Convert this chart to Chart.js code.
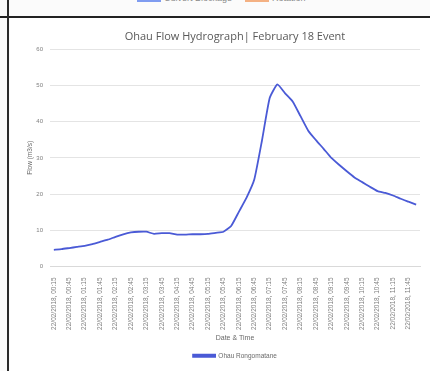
<!DOCTYPE html>
<html>
<head>
<meta charset="utf-8">
<script src="https://cdn.jsdelivr.net/npm/chart.js@4/dist/chart.umd.min.js"></script>
<style>
  html, body { margin: 0; padding: 0; }
  body { width: 430px; height: 371px; background: #fbfbfb; position: relative; overflow: hidden; font-family: "Liberation Sans", Arial, sans-serif; }
  #prev-legend { position: absolute; top: -9px; left: 0; width: 430px; height: 18px; color: #8a8a8a; font-size: 9px; }
  #prev-legend span { position: absolute; top: 2px; }
  #prev-legend i { position: absolute; top: 9px; width: 24px; height: 2px; }
  #hline { position: absolute; left: 0; top: 16px; width: 430px; height: 2px; background: #222; }
  #vline { position: absolute; left: 7px; top: 0; width: 2px; height: 371px; background: #2a2a2a; }
  #wrap { position: absolute; left: 10px; top: 18px; width: 420px; height: 353px; background: #fff; }
</style>
</head>
<body>
<div id="prev-legend">
  <i style="left:137px;background:#7f9cf0"></i><span style="left:164px">Culvert Blockage</span>
  <i style="left:245px;background:#f4b183"></i><span style="left:272px">Rotation</span>
</div>
<div id="hline"></div>
<div id="vline"></div>
<div id="wrap"><canvas id="chart" width="420" height="353"></canvas></div>
<script>
// 15-minute readings, 22 Feb 2018, 00:15 to 12:00
const TIMES = [
  "00:15", "00:30", "00:45", "01:00", "01:15", "01:30", "01:45", "02:00",
  "02:15", "02:30", "02:45", "03:00", "03:15", "03:30", "03:45", "04:00",
  "04:15", "04:30", "04:45", "05:00", "05:15", "05:30", "05:45", "06:00",
  "06:15", "06:30", "06:45", "07:00", "07:15", "07:30", "07:45", "08:00",
  "08:15", "08:30", "08:45", "09:00", "09:15", "09:30", "09:45", "10:00",
  "10:15", "10:30", "10:45", "11:00", "11:15", "11:30", "11:45", "12:00"
];
const LABELS = TIMES.map((t) => "22/02/2018, " + t);

// flow in m3/s
const FLOW = [
  4.6, 4.8, 5.1, 5.4, 5.7, 6.2, 6.8, 7.4,
  8.2, 8.9, 9.4, 9.6, 9.6, 9.0, 9.2, 9.2,
  8.8, 8.8, 8.9, 8.9, 9.0, 9.3, 9.6, 11.2,
  15.1, 19.0, 24.0, 34.8, 46.5, 50.3, 47.8, 45.5,
  41.5, 37.5, 34.9, 32.5, 30.0, 28.1, 26.3, 24.6,
  23.3, 22.0, 20.8, 20.3, 19.6, 18.7, 17.9, 17.1
];

const Y_TICKS = [0, 10, 20, 30, 40, 50, 60];

const grey = "#7f7f7f";
const FONT = "'Liberation Sans', Arial, sans-serif";

new Chart(document.getElementById("chart").getContext("2d"), {
  type: "line",
  data: {
    labels: LABELS,
    datasets: [{
      label: "Ohau Rongomatane",
      data: FLOW,
      borderColor: "#4a5ad6",
      backgroundColor: "#4a5ad6",
      borderWidth: 1.8,
      pointRadius: 0,
      tension: 0.15,
      fill: false,
    }],
  },
  options: {
    responsive: false,
    animation: false,
    layout: { padding: { left: 10, right: 10, top: 0, bottom: 2 } },
    plugins: {
      title: {
        display: true,
        fullSize: false,
        text: "Ohau Flow Hydrograph| February 18 Event",
        color: "#595959",
        font: { family: "'Open Sans', sans-serif", size: 11, weight: "normal" },
        padding: { top: 12, bottom: 6 },
      },
      legend: {
        position: "bottom",
        fullSize: false,
        labels: {
          color: "#6a6a6a",
          font: { family: FONT, size: 6.5 },
          boxWidth: 22,
          boxHeight: 2,
          padding: 6,
        },
      },
      tooltip: { enabled: false },
    },
    scales: {
      x: {
        offset: true,
        grid: { display: false },
        border: { color: "#d9d9d9" },
        ticks: {
          autoSkip: false,
          minRotation: 90,
          maxRotation: 90,
          padding: 3,
          color: grey,
          font: { family: FONT, size: 6.5 },
          callback: function (v, i) { return i % 2 === 0 ? LABELS[i] : ""; },
        },
        title: {
          display: true,
          text: "Date & Time",
          color: "#6a6a6a",
          font: { family: FONT, size: 7 },
          padding: { top: 2, bottom: 4 },
        },
        afterFit: function (s) { s.height = 80; },
      },
      y: {
        min: 0,
        max: 60,
        afterBuildTicks: function (s) { s.ticks = Y_TICKS.map((v) => ({ value: v })); },
        grid: { color: "#e4e4e4", drawTicks: false },
        border: { display: false },
        ticks: {
          padding: 7,
          color: grey,
          font: { family: FONT, size: 6 },
        },
        title: {
          display: true,
          text: "Flow (m3/s)",
          color: "#6a6a6a",
          font: { family: FONT, size: 6.5 },
          padding: { top: 6, bottom: 0 },
        },
        afterFit: function (s) { s.width = 30; },
      },
    },
  },
});
</script>
</body>
</html>
